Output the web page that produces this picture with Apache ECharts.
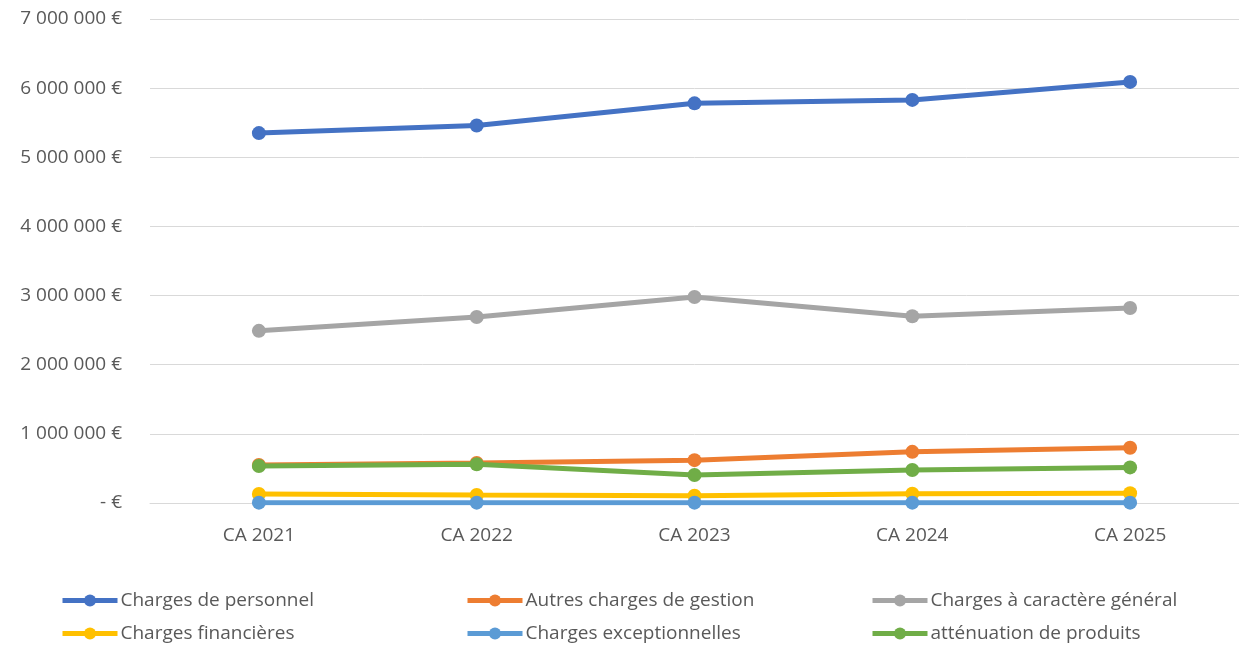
<!DOCTYPE html>
<html><head><meta charset="utf-8">
<script src="https://cdn.jsdelivr.net/npm/echarts@6/dist/echarts.min.js"></script>
<style>html,body{margin:0;padding:0;background:#fff}#c{width:1239px;height:646px}</style>
</head><body><div id="c"></div>
<script>
const categories = ['CA 2021','CA 2022','CA 2023','CA 2024','CA 2025'];
const seriesNames = ['Charges de personnel','Autres charges de gestion','Charges à caractère général','Charges financières','Charges exceptionnelles','atténuation de produits'];
const personnel = [5350000, 5460000, 5780000, 5830000, 6090000];
const autresGestion = [550000, 580000, 620000, 740000, 800000];
const caractereGeneral = [2490000, 2690000, 2980000, 2700000, 2820000];
const financieres = [130000, 115000, 105000, 135000, 140000];
const exceptionnelles = [5000, 5000, 5000, 5000, 5000];
const attenuation = [535000, 560000, 405000, 477000, 515000];
const colors = ['#4472C4','#ED7D31','#A5A5A5','#FFC000','#5B9BD5','#70AD47'];
const values = [personnel, autresGestion, caractereGeneral, financieres, exceptionnelles, attenuation];

function fmt(v){
  if (v === 0) return '- €';
  return String(v).replace(/\B(?=(\d{3})+(?!\d))/g, ' ') + ' €';
}
const font = "'Open Sans', 'Liberation Sans', sans-serif";
const legendPos = [[60,590],[465,590],[870,590],[60,623],[465,623],[870,623]];
const chart = echarts.init(document.getElementById('c'), null, {renderer:'canvas'});
chart.setOption({
  animation:false,
  color: colors,
  grid:{left:150,right:0,top:19,bottom:143,containLabel:false},
  xAxis:{type:'category',data:categories,boundaryGap:true,
    axisLine:{lineStyle:{color:'#d9d9d9',width:1}},axisTick:{show:false},
    axisLabel:{color:'#595959',fontSize:19,fontFamily:font,margin:23}},
  yAxis:{type:'value',min:0,max:7000000,interval:1000000,
    axisLine:{show:false},axisTick:{show:false},
    splitLine:{lineStyle:{color:'#d9d9d9',width:1}},
    axisLabel:{color:'#595959',fontSize:19,fontFamily:font,margin:28,formatter:fmt}},
  legend: seriesNames.map((n,i)=>({
    data:[n], left:legendPos[i][0], top:legendPos[i][1]+1, itemWidth:55, itemHeight:15, padding:0,
    lineStyle:{width:5},
    textStyle:{color:'#595959',fontSize:19,fontFamily:font,padding:[0,0,0,-2]}
  })),
  series: seriesNames.map((n,i)=>({
    name:n, type:'line', data:values[i], symbol:'circle', symbolSize:14,
    lineStyle:{width:5,color:colors[i]}, itemStyle:{color:colors[i]}, z:2+i
  }))
});
</script></body></html>
